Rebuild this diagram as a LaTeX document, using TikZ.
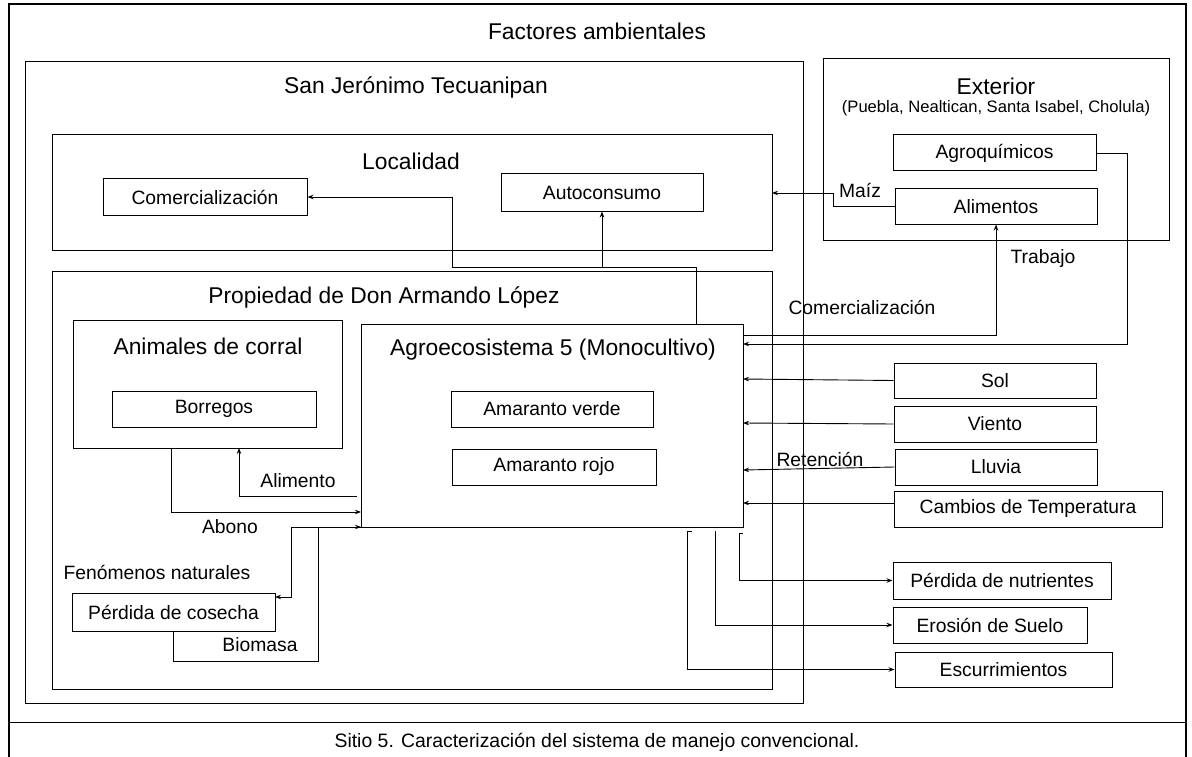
\documentclass[tikz,border=0pt]{standalone}
\usepackage{fontspec}
\setmainfont{Liberation Sans}
\usetikzlibrary{arrows.meta}
\newcommand\fsz{\fontsize{19.3pt}{23pt}\selectfont}
\newcommand\ftit{\fontsize{22.8pt}{27pt}\selectfont}
\newcommand\fsml{\fontsize{16.6pt}{20pt}\selectfont}
\newcommand\fcap{\fontsize{19.4pt}{23pt}\selectfont}
\begin{document}
\begin{tikzpicture}[x=1pt,y=-1pt,
  box/.style={draw, line width=1pt, inner sep=0pt, font=\fsz},
  frame/.style={draw, line width=1pt, inner sep=0pt},
  lbl/.style={inner sep=0pt, font=\fsz},
  tit/.style={inner sep=0pt, font=\ftit},
  arr/.style={line width=0.9pt, -{Stealth[length=6pt,width=4.5pt]}},
  ln/.style={line width=0.9pt}]
\useasboundingbox (0,0) rectangle (1192,757);
\fill[white] (0,0) rectangle (1192,757);
% outer frame
\draw[line width=2pt] (9,757) -- (9,4) -- (1186,4) -- (1186,757);
\draw[line width=1pt] (9,722) -- (1186,722);
\node[tit] (hdr) at (597,31) {Factores ambientales};
\node[inner sep=0pt, font=\fcap] (cap) at (597,742) {Sitio 5. Caracterización del sistema de manejo convencional.};
% containers
\node[frame, minimum width=778pt, minimum height=641pt] (sj) at (414,382.5) {};
\node[tit] (sjt) at (416,87) {San Jerónimo Tecuanipan};
\node[frame, minimum width=346pt, minimum height=181pt] (ext) at (996,149.5) {};
\node[tit] (extt) at (996,86) {Exterior};
\node[inner sep=0pt, font=\fsml] (extp) at (996,108) {(Puebla, Nealtican, Santa Isabel, Cholula)};
\node[frame, minimum width=720pt, minimum height=115pt] (loc) at (412,192.5) {};
\node[tit] (loct) at (411,161) {Localidad};
\node[frame, minimum width=720pt, minimum height=418pt] (prop) at (412,480) {};
\node[tit] (propt) at (384,297) {Propiedad de Don Armando López};
\node[frame, minimum width=269pt, minimum height=128pt] (anim) at (207.5,384) {};
\node[tit] (animt) at (208,346) {Animales de corral};
\node[frame, minimum width=382pt, minimum height=203pt] (agro) at (552,425.5) {};
\node[tit] (agrot) at (553,350) {Agroecosistema 5 (Monocultivo)};
% boxes
\node[box, minimum width=204pt, minimum height=36pt] (comer) at (205,197) {Comercialización};
\node[box, minimum width=202pt, minimum height=37pt] (auto) at (602,192.5) {Autoconsumo};
\node[box, minimum width=203pt, minimum height=36pt] (agroq) at (994.5,153) {Agroquímicos};
\node[box, minimum width=202pt, minimum height=35pt] (alim) at (996,206.5) {Alimentos};
\node[box, minimum width=204pt, minimum height=36pt] (borr) at (214,409) {Borregos};
\node[box, minimum width=202pt, minimum height=36pt] (amv) at (552,409) {Amaranto verde};
\node[box, minimum width=204pt, minimum height=36pt] (amr) at (554,467) {Amaranto rojo};
\node[box, minimum width=203pt, minimum height=38pt] (perd) at (173.5,612) {Pérdida de cosecha};
\node[box, minimum width=202pt, minimum height=35pt] (sol) at (995,380.5) {Sol};
\node[box, minimum width=202pt, minimum height=36pt] (vie) at (995,424) {Viento};
\node[box, minimum width=202pt, minimum height=36pt] (llu) at (996,467) {Lluvia};
\node[box, minimum width=268pt, minimum height=36pt] (cam) at (1028,509) {Cambios de Temperatura};
\node[box, minimum width=218pt, minimum height=37pt] (nut) at (1002,580.5) {Pérdida de nutrientes};
\node[box, minimum width=194pt, minimum height=36pt] (ero) at (990,625) {Erosión de Suelo};
\node[box, minimum width=217pt, minimum height=35pt] (esc) at (1003.5,669.5) {Escurrimientos};
% labels
\node[lbl] (lalim) at (298,481) {Alimento};
\node[lbl] (labo) at (230,527) {Abono};
\node[lbl] (lfen) at (157,572) {Fenómenos naturales};
\node[lbl] (lbio) at (260,645) {Biomasa};
\node[lbl] (lmai) at (860,190) {Maíz};
\node[lbl] (ltra) at (1043,259) {Trabajo};
\node[lbl] (lcom) at (862,307) {Comercialización};
\node[lbl] (lret) at (820,459) {Retención};
% coordinates
\coordinate (agrotop) at (696,324);
\coordinate (split) at (602,267);
\coordinate (maizin) at (772,193);
\coordinate (trabout) at (743,335);
\coordinate (agroqin) at (743,344);
\coordinate (solin) at (743,379);
\coordinate (viein) at (743,423);
\coordinate (lluin) at (743,470);
\coordinate (camin) at (743,503);
\coordinate (camout) at (894,503);
\coordinate (abos) at (171,448);
\coordinate (aboin) at (361,512);
\coordinate (alimout) at (357,496);
\coordinate (animin) at (239,448);
\coordinate (bioin) at (361,527);
\coordinate (fenin) at (275,597);
\coordinate (n0) at (743,533);
\coordinate (e0) at (715,531);
\coordinate (s0) at (692,531);
% connectors
\draw[arr] (agrotop) -- ++(0,-57) -| (auto.south);
\draw[arr] (split) -- ++(-150,0) |- (comer.east);
\draw[arr] (alim.west) -- ++(-61,0) |- (maizin);
\draw[arr] (trabout) -| (alim.south);
\draw[arr] (agroq.east) -- ++(31,0) |- (agroqin);
\draw[arr] (sol.west) -- (solin);
\draw[arr] (vie.west) -- (viein);
\draw[arr] (llu.west) -- (lluin);
\draw[arr] (camout) -- (camin);
\draw[arr] (abos) |- (aboin);
\draw[arr] (alimout) -| (animin);
\draw[arr] (perd.south) -- ++(0,30) -- ++(145,0) |- (bioin);
\draw[arr] (agro.south west) -- ++(-69,0) |- (fenin);
\draw[arr] (n0) -- ++(-4,0) |- (nut.west);
\draw[arr] (e0) |- (ero.west);
\draw[arr] (s0) -- ++(-5,0) |- (esc.west);
\end{tikzpicture}
\end{document}
